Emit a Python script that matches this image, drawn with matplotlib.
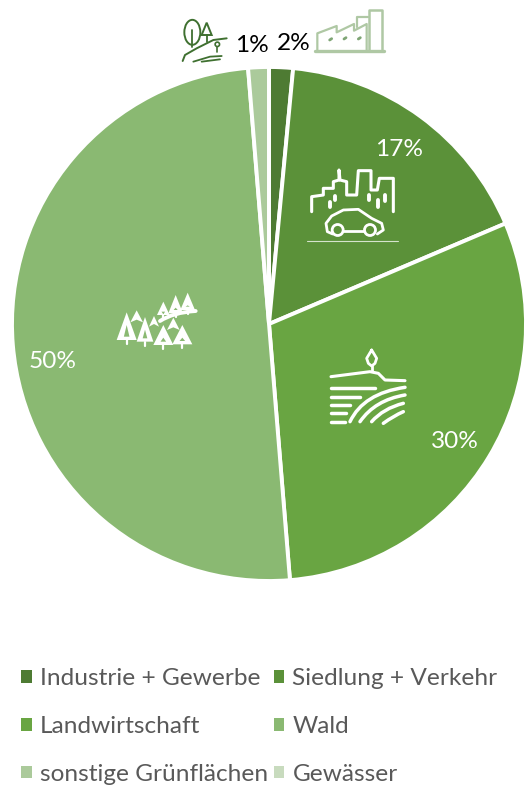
#!/usr/bin/env python3
# plot.py - land use pie chart with hand drawn icons

import numpy as np
import matplotlib
matplotlib.use('Agg')
import matplotlib.pyplot as plt
from matplotlib.patches import Patch, Polygon, Circle, Ellipse, PathPatch
from matplotlib.path import Path

categories = ['Industrie + Gewerbe', 'Siedlung + Verkehr', 'Landwirtschaft',
              'Wald', 'sonstige Grünflächen', 'Gewässer']
values = [1.5, 17.1, 30.1, 50.0, 1.3, 0.0]
value_labels = ['2%', '17%', '30%', '50%', '1%']
colors = ['#4E7B33', '#5B9139', '#69A542', '#8AB972', '#ABCA9B', '#C8DBBE']

W, H = 532, 791
plt.rcParams['font.family'] = ['Lato', 'DejaVu Sans']

fig = plt.figure(figsize=(W / 100, H / 100), dpi=100)

# pie axes, in pixels: centre (269, 324), radius 257
ax = fig.add_axes([12 / W, 1 - 581 / H, 514 / W, 514 / H])
ax.pie(values, colors=colors, startangle=90, counterclock=False, radius=1,
       wedgeprops={'edgecolor': 'white', 'linewidth': 2.8})
ax.set_xlim(-1, 1)
ax.set_ylim(-1, 1)

# overlay in pixel coordinates for labels and icons
ov = fig.add_axes([0, 0, 1, 1], facecolor='none')
ov.set_xlim(0, W)
ov.set_ylim(H, 0)
ov.axis('off')

label_pos = [(294, 43), (399, 149), (455, 441), (53, 361), (252, 45)]
label_col = ['black', 'white', 'white', 'white', 'black']
for txt, (x, y), c in zip(value_labels, label_pos, label_col):
    ov.text(x, y, txt, color=c, fontsize=17.6, ha='center', va='center')


def mapper(x0, y0):
    return lambda pts: [(x0 + p[0] / 3, y0 + p[1] / 3) for p in pts]


def stroke(m, pts, color='white', lw=1.5):
    xy = np.array(m(pts))
    ov.plot(xy[:, 0], xy[:, 1], color=color, lw=lw, solid_capstyle='round',
            solid_joinstyle='round')


def curve(m, pts, color='white', lw=1.5):
    pts = m(pts)
    codes = [Path.MOVETO] + [Path.CURVE3] * (len(pts) - 1)
    ov.add_patch(PathPatch(Path(pts, codes), fill=False, edgecolor=color, lw=lw,
                           capstyle='round'))


# factory icon
m = mapper(160, 0)
fac = '#AFC8A4'
stroke(m, [(465, 153), (672, 153)], fac, 2.4)
stroke(m, [(472, 150), (472, 100), (530, 78), (530, 97), (582, 72), (582, 92), (620, 72), (620, 150)], fac, 1.6)
stroke(m, [(592, 82), (592, 50), (625, 50)], fac, 1.6)
stroke(m, [(628, 150), (628, 30), (665, 30), (665, 150)], fac, 1.8)
for d in [(512, 118), (555, 115), (598, 115)]:
    stroke(m, [(d[0] - 3, d[1] + 2), (d[0] + 3, d[1] - 2)], '#7FA575', 2)

# tree and hand icon
tree = '#3F7030'
cx, cy = m([(97, 97)])[0]
ov.add_patch(Ellipse((cx, cy), 16, 25, fill=False, edgecolor=tree, lw=1.4))
stroke(m, [(97, 90), (97, 142)], tree, 1.3)
ov.add_patch(Polygon(m([(140, 68), (125, 105), (155, 105)]), fill=False, edgecolor=tree, lw=1.4))
stroke(m, [(140, 105), (140, 125)], tree, 1.3)
stroke(m, [(68, 183), (75, 165), (110, 145), (160, 120), (200, 115)], tree, 1.4)
cx, cy = m([(172, 133)])[0]
ov.add_patch(Circle((cx, cy), 2.2, fill=False, edgecolor=tree, lw=1.2))
stroke(m, [(172, 140), (172, 155)], tree, 1.2)
stroke(m, [(100, 185), (150, 170), (185, 168)], tree, 1.3)
stroke(m, [(125, 185), (180, 178)], tree, 1.3)

# city and car icon
m = mapper(290, 130)
stroke(m, [(65, 245), (65, 200), (100, 195), (100, 175), (130, 175), (130, 155), (147, 150), (147, 120),
           (150, 150), (170, 155), (170, 195), (200, 195), (205, 122), (243, 122), (243, 180), (262, 180),
           (268, 145), (310, 145), (310, 245)], lw=2.2)
for a, b, c in [(135, 198, 210), (120, 215, 230), (238, 195, 210), (285, 195, 212), (265, 210, 230)]:
    stroke(m, [(a, b), (a, c)], lw=2.8)
stroke(m, [(128, 312), (112, 305), (108, 280), (125, 258), (160, 240), (205, 238), (245, 265), (275, 280),
           (280, 300), (262, 312)], lw=2)
stroke(m, [(160, 303), (222, 303)], lw=2)
for wx in (143, 240):
    cx, cy = m([(wx, 300)])[0]
    ov.add_patch(Circle((cx, cy), 5.5, fill=False, edgecolor='white', lw=2))
stroke(m, [(50, 333), (325, 333)], '#D5E3CC', 0.8)

# field icon
m = mapper(320, 340)
stroke(m, [(155, 30), (140, 55), (145, 70), (155, 78), (165, 70), (170, 55), (155, 30)], lw=2)
stroke(m, [(155, 78), (155, 92)], lw=2)
stroke(m, [(33, 110), (150, 95), (175, 100), (195, 120), (255, 122)], lw=2.2)
for x1, y1 in [(165, 143), (120, 170), (90, 195), (78, 220), (75, 247)]:
    stroke(m, [(33, y1), (x1, y1)], lw=2.5)
curve(m, [(90, 245), (130, 160), (255, 142)], lw=2.5)
curve(m, [(120, 245), (165, 180), (255, 165)], lw=2.5)
curve(m, [(155, 245), (190, 205), (250, 190)], lw=2.5)
curve(m, [(190, 250), (220, 228), (250, 215)], lw=2.5)

# forest icon
m = mapper(105, 285)
trees = [(65, 82, 165, 30), (120, 96, 170, 25), (175, 120, 180, 30), (232, 120, 178, 30),
         (175, 50, 90, 19), (212, 30, 85, 22), (248, 23, 75, 22)]
for ax_, top, base, hw in trees:
    ov.add_patch(Polygon(m([(ax_, top), (ax_ - hw, base), (ax_ + hw, base)]), color='white', lw=0))
    ov.add_patch(Polygon(m([(ax_, top + 38), (ax_ - hw * 0.28, base - 10), (ax_ + hw * 0.28, base - 10)]),
                         color=colors[3], lw=0))
    stroke(m, [(ax_, base), (ax_, base + 12)], lw=1.6)
for ax_, top, base, hw in [(95, 76, 112, 19), (205, 98, 135, 19), (147, 93, 125, 15)]:
    ov.add_patch(Polygon(m([(ax_, top), (ax_ - hw, base), (ax_, base - 8), (ax_ + hw, base)]), color='white', lw=0))
curve(m, [(165, 108), (205, 82), (272, 78)], lw=2.8)

# legend
order = [0, 2, 4, 1, 3, 5]
handles = [Patch(facecolor=colors[i], edgecolor='none', label=categories[i]) for i in order]
fig.legend(handles=handles, ncols=2, loc='upper left', bbox_to_anchor=(21 / W, 1 - 668 / H),
           frameon=False, fontsize=17.6, labelcolor='#595959', labelspacing=1.1, columnspacing=0.25,
           handlelength=0.43, handleheight=0.43, handletextpad=0.33, borderaxespad=0, borderpad=0)

fig.savefig('out.png', dpi=100)
